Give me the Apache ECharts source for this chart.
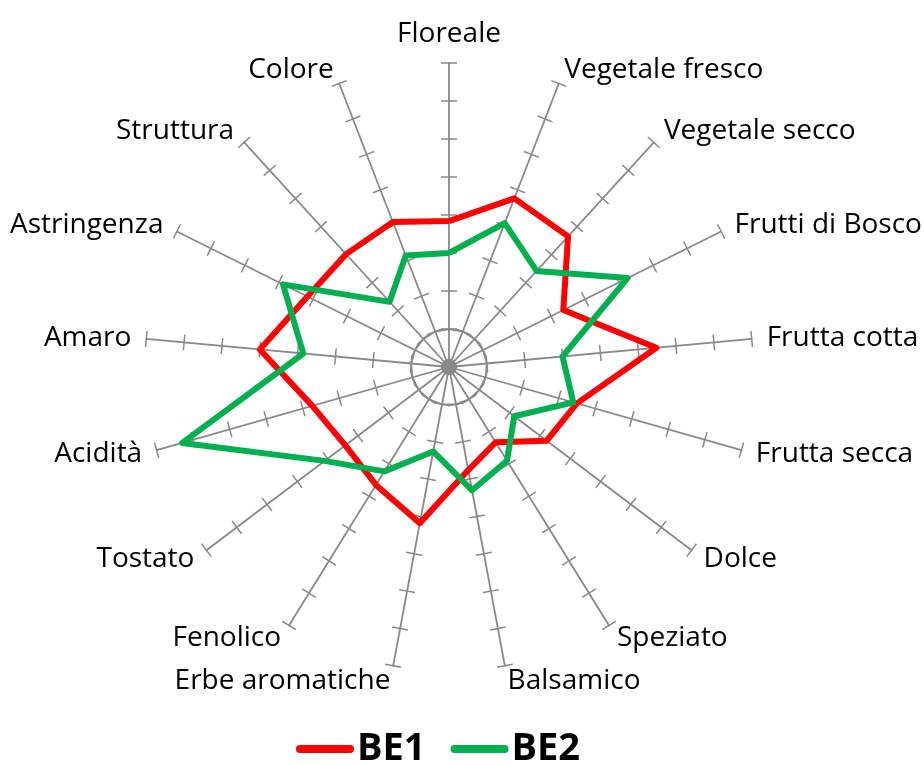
<!DOCTYPE html>
<html>
<head>
<meta charset="utf-8">
<script src="https://cdn.jsdelivr.net/npm/echarts@6/dist/echarts.min.js"></script>
<style>
  html, body { margin: 0; padding: 0; background: #fff; }
  #chart { width: 924px; height: 764px; }
</style>
</head>
<body>
<div id="chart"></div>
<script>
// descrittori in senso orario, a partire da Floreale
const categories = ['Floreale', 'Vegetale fresco', 'Vegetale secco', 'Frutti di Bosco', 'Frutta cotta',
    'Frutta secca', 'Dolce', 'Speziato', 'Balsamico', 'Erbe aromatiche', 'Fenolico', 'Tostato',
    'Acidità', 'Amaro', 'Astringenza', 'Struttura', 'Colore'];
const be1 = [3.84, 4.76, 4.65, 3.36, 5.48, 3.5, 3.22, 2.33, 2.76, 4.18, 3.65, 3.42, 3.74, 5.0, 4.16, 4.02, 4.09];
const be2 = [3.0, 4.06, 3.42, 5.25, 3.0, 3.4, 2.15, 2.9, 3.3, 2.26, 3.23, 4.1, 7.3, 3.85, 4.88, 2.32, 3.15];
const axisMax = 8;

// echarts dispone gli assi in senso antiorario: giro l'ordine
const order = [0].concat(categories.map((c, i) => i).slice(1).reverse());
const indicators = order.map(i => ({ name: categories[i], min: 0, max: axisMax }));
const pick = arr => order.map(i => arr[i]);

const grey = '#898989';
const font = '"Open Sans", sans-serif';
const cx = 449, cy = 367, R = 304;

const chart = echarts.init(document.getElementById('chart'));

const baseRadar = {
    indicator: indicators,
    center: [cx, cy],
    radius: R,
    startAngle: 90,
    splitNumber: axisMax,
    shape: 'polygon',
    splitArea: { show: false }
};

chart.setOption({
    animation: false,
    legend: {
        data: ['BE1', 'BE2'],
        left: 291,
        top: 725,
        itemWidth: 58,
        itemHeight: 8,
        itemGap: 25,
        icon: 'path://M4,0 L54,0 A4,4 0 0 1 54,8 L4,8 A4,4 0 0 1 4,0 Z',
        textStyle: { fontFamily: font, fontSize: 38, fontWeight: 'bold', color: '#000', padding: [0, 0, 0, -2] }
    },
    radar: [
        // assi, nomi e tacche da un lato
        Object.assign({}, baseRadar, {
            axisName: { color: '#000', fontFamily: font, fontSize: 28 },
            nameGap: 15,
            axisLine: { lineStyle: { color: grey, width: 1.8 } },
            axisTick: { show: true, length: 8, lineStyle: { color: grey, width: 1.5 } },
            splitLine: { show: false }
        }),
        // tacche dall'altro lato
        Object.assign({}, baseRadar, {
            axisName: { show: false },
            axisLine: { show: false },
            axisTick: { show: true, length: -8, lineStyle: { color: grey, width: 1.5 } },
            splitLine: { show: false }
        }),
        // anello interno al primo livello
        Object.assign({}, baseRadar, {
            indicator: order.map(() => ({ name: '', min: 0, max: 1 })),
            radius: R / axisMax,
            splitNumber: 1,
            axisName: { show: false },
            axisLine: { show: false },
            axisTick: { show: false },
            splitLine: { lineStyle: { color: grey, width: 1.8 } }
        })
    ],
    series: [{
        type: 'radar',
        radarIndex: 0,
        symbol: 'none',
        data: [
            { name: 'BE1', value: pick(be1), itemStyle: { color: '#ff0000' },
              lineStyle: { color: '#ff0000', width: 6, join: 'round' } },
            { name: 'BE2', value: pick(be2), itemStyle: { color: '#00b050' },
              lineStyle: { color: '#00b050', width: 6, join: 'round' } }
        ]
    }]
});
</script>
</body>
</html>
